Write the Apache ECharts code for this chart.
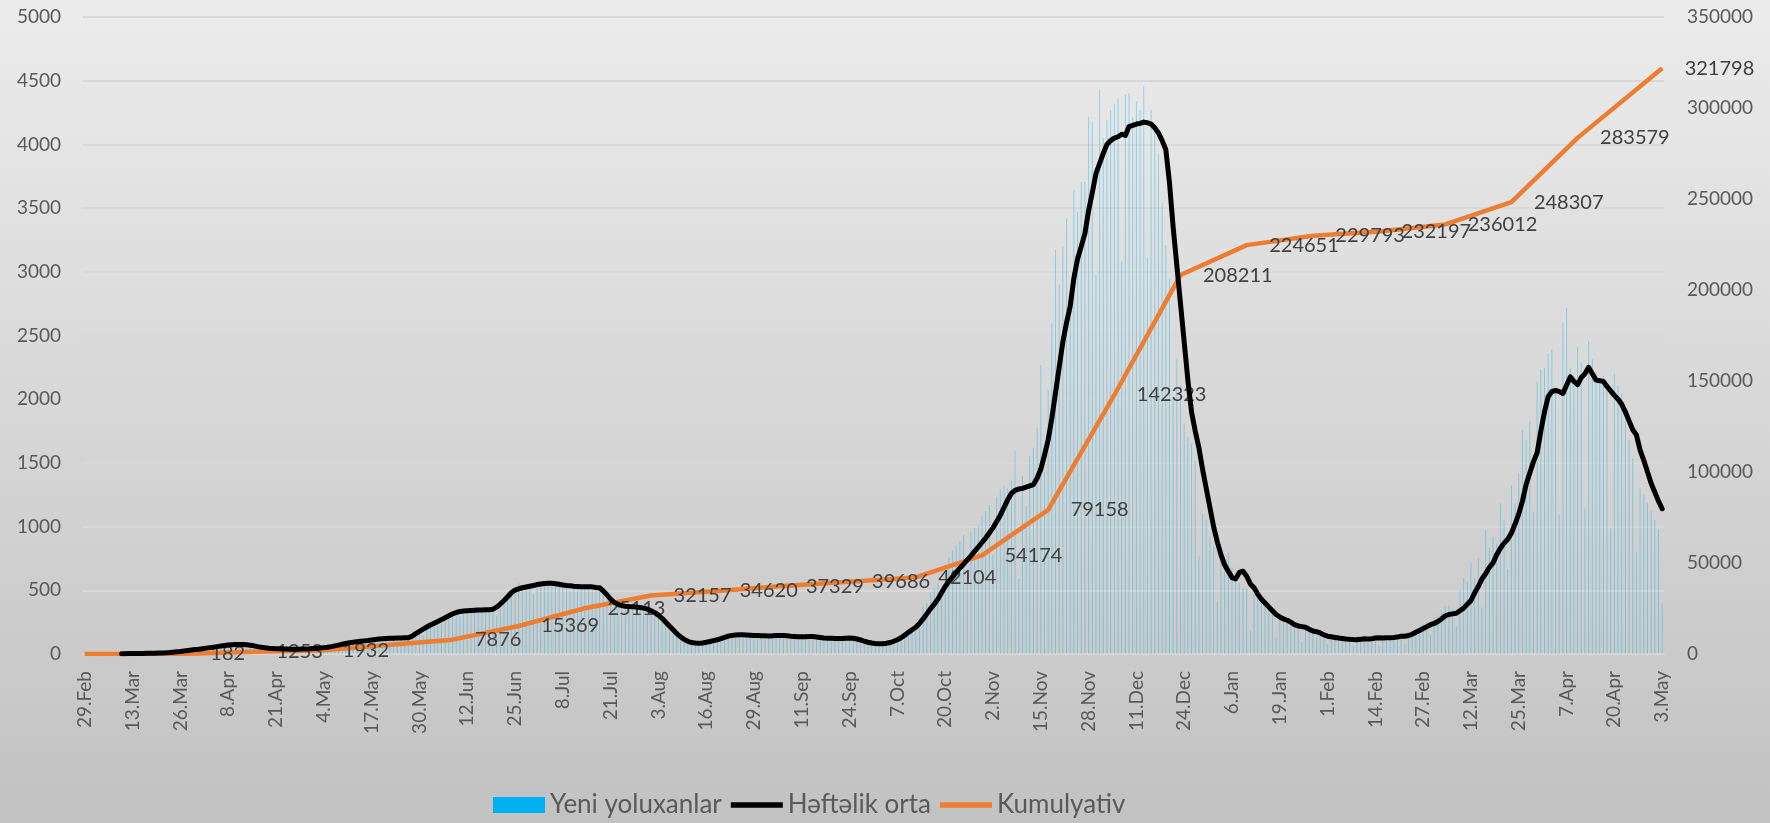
<!DOCTYPE html>
<html>
<head>
<meta charset="utf-8">
<title>Yeni yoluxanlar</title>
<script src="https://cdn.jsdelivr.net/npm/echarts@6/dist/echarts.min.js"></script>
<style>
  html, body { margin: 0; padding: 0; }
  #chart { width: 1770px; height: 823px; }
</style>
</head>
<body>
<div id="chart"></div>
<script>
// Daily data, 29.Feb.2020 .. 3.May.2021 (430 days)
const startDay = '2020-02-29';
const dayCount = 430;
const monthNames = ['Jan', 'Feb', 'Mar', 'Apr', 'May', 'Jun', 'Jul', 'Aug', 'Sep', 'Oct', 'Nov', 'Dec'];

// new cases per day (bars)
const dailyCases = [
    3, 0, 0, 0, 0, 3, 0, 0, 2, 1,
    0, 4, 0, 0, 8, 0, 3, 4, 0, 6,
    6, 8, 12, 9, 15, 19, 22, 28, 30, 25,
    27, 43, 38, 48, 52, 64, 57, 68, 75, 81,
    76, 88, 74, 61, 69, 72, 54, 45, 52, 38,
    46, 40, 53, 31, 42, 36, 44, 33, 39, 41,
    37, 45, 40, 48, 51, 58, 64, 55, 73, 79,
    82, 88, 97, 78, 103, 91, 112, 106, 118, 98,
    122, 131, 113, 128, 119, 135, 112, 129, 140, 127,
    165, 182, 150, 214, 230, 265, 241, 273, 288, 302,
    312, 330, 298, 345, 352, 319, 356, 340, 335, 362,
    342, 358, 301, 414, 443, 491, 473, 528, 562, 497,
    526, 548, 471, 556, 560, 573, 582, 534, 557, 540,
    518, 561, 497, 543, 527, 535, 522, 548, 510, 538,
    493, 462, 420, 389, 371, 402, 365, 388, 352, 371,
    358, 376, 331, 340, 325, 296, 278, 245, 238, 201,
    176, 148, 112, 109, 96, 88, 76, 84, 92, 88,
    102, 118, 97, 133, 141, 149, 155, 160, 138, 152,
    147, 155, 121, 144, 150, 139, 146, 152, 129, 148,
    144, 151, 118, 139, 142, 137, 133, 140, 116, 135,
    128, 131, 102, 126, 124, 122, 119, 127, 108, 125,
    112, 104, 86, 94, 87, 81, 69, 79, 88, 97,
    108, 126, 112, 153, 178, 205, 180, 262, 371, 400,
    478, 520, 560, 440, 700, 760, 816, 850, 880, 934,
    620, 960, 990, 1010, 1080, 1120, 1170, 780, 1235, 1290,
    1320, 1300, 1359, 1595, 588, 1400, 1163, 1556, 1620, 1778,
    2269, 1430, 2073, 2595, 3171, 2900, 3197, 3420, 2650, 3641,
    3472, 3707, 3707, 4217, 4178, 2974, 4432, 4050, 4190, 4270,
    4320, 4360, 3080, 4390, 4401, 4210, 4340, 4270, 4453, 3113,
    4270, 4105, 3929, 3540, 3210, 2947, 2020, 2320, 2105, 1810,
    1706, 1653, 1516, 766, 1096, 1054, 920, 843, 411, 792,
    690, 792, 680, 602, 555, 512, 510, 183, 470, 452,
    418, 396, 351, 318, 131, 287, 262, 249, 233, 218,
    212, 98, 205, 189, 176, 131, 164, 152, 79, 148,
    139, 157, 130, 124, 118, 64, 144, 126, 122, 119,
    125, 131, 67, 136, 129, 134, 131, 138, 147, 81,
    162, 178, 196, 211, 230, 249, 152, 288, 301, 329,
    366, 380, 357, 215, 502, 596, 568, 717, 594, 752,
    363, 973, 832, 921, 869, 1183, 1050, 667, 1326, 1183,
    1418, 1758, 1680, 1824, 1117, 2138, 2235, 2243, 2355, 2386,
    2050, 1091, 2596, 2713, 2240, 2180, 2412, 2290, 1144, 2452,
    2313, 2210, 2120, 2180, 2090, 986, 2195, 2110, 2046, 1830,
    1680, 1536, 803, 1300, 1250, 1183, 1120, 1052, 980, 403
];

// 7-day average (black line)
const weeklyAvg = [
    null, null, null, null, null, null, null, null, null, null,
    2, 2, 3, 3, 3, 4, 4, 5, 5, 6,
    7, 8, 9, 11, 14, 17, 20, 24, 28, 32,
    35, 38, 42, 46, 50, 54, 58, 62, 66, 70,
    72, 74, 75, 74, 72, 68, 64, 58, 53, 49,
    46, 44, 42, 41, 40, 39, 38, 38, 38, 39,
    40, 41, 43, 45, 47, 50, 53, 58, 64, 70,
    76, 82, 88, 92, 96, 100, 103, 106, 110, 114,
    118, 120, 122, 123, 124, 125, 126, 127, 128, 140,
    160, 178, 195, 212, 228, 242, 256, 270, 285, 300,
    315, 326, 334, 338, 340, 342, 344, 345, 346, 347,
    348, 352, 368, 392, 420, 450, 480, 502, 512, 520,
    526, 532, 538, 545, 550, 554, 556, 555, 552, 548,
    542, 538, 535, 532, 530, 528, 528, 528, 527, 522,
    520, 495, 465, 430, 405, 390, 380, 375, 372, 370,
    368, 365, 360, 352, 340, 325, 305, 280, 250, 220,
    190, 160, 135, 115, 100, 90, 86, 85, 87, 92,
    98, 105, 112, 120, 130, 140, 146, 150, 152, 151,
    150, 148, 146, 145, 144, 143, 142, 143, 145, 146,
    145, 143, 140, 138, 136, 135, 136, 138, 137, 134,
    130, 126, 124, 123, 122, 121, 122, 124, 126, 124,
    118, 110, 100, 92, 86, 82, 80, 81, 84, 90,
    100, 112, 128, 148, 170, 190, 210, 240, 275, 315,
    355, 390, 430, 480, 530, 570, 605, 640, 675, 705,
    738, 770, 805, 840, 875, 910, 950, 990, 1040, 1090,
    1150, 1210, 1260, 1285, 1295, 1300, 1310, 1320, 1330, 1380,
    1450, 1560, 1680, 1850, 2050, 2250, 2450, 2600, 2730, 2950,
    3100, 3200, 3300, 3480, 3620, 3770, 3850, 3930, 4000, 4030,
    4050, 4060, 4080, 4070, 4140, 4150, 4160, 4165, 4175, 4170,
    4160, 4130, 4090, 4030, 3960, 3700, 3350, 3050, 2750, 2450,
    2150, 1900, 1750, 1620, 1450, 1300, 1150, 1000, 880, 780,
    700, 650, 600, 590, 640, 650, 610, 550, 520, 470,
    430, 400, 370, 340, 310, 290, 275, 265, 250, 230,
    220, 215, 210, 195, 180, 175, 165, 150, 140, 135,
    130, 125, 122, 118, 115, 113, 112, 115, 120, 118,
    120, 125, 128, 125, 127, 128, 130, 133, 140, 140,
    145, 155, 170, 185, 200, 215, 230, 240, 255, 275,
    300, 310, 315, 320, 340, 360, 390, 420, 480, 530,
    590, 630, 680, 715, 780, 830, 870, 900, 950, 1020,
    1100, 1200, 1330, 1420, 1510, 1580, 1750, 1900, 2020, 2060,
    2070, 2060, 2045, 2110, 2175, 2140, 2115, 2170, 2200, 2250,
    2200, 2150, 2145, 2140, 2100, 2065, 2030, 2000, 1960, 1900,
    1830, 1760, 1720, 1600, 1520, 1430, 1340, 1270, 1200, 1140
];

// cumulative total (orange line, right axis), only on these days
const cumDates = ['2020-02-29', '2020-03-28', '2020-04-15', '2020-05-03', '2020-06-08', '2020-06-26',
    '2020-07-14', '2020-08-01', '2020-08-19', '2020-09-06', '2020-09-24', '2020-10-12', '2020-10-30',
    '2020-11-17', '2020-12-05', '2020-12-23', '2021-01-10', '2021-01-28', '2021-02-15', '2021-03-05',
    '2021-03-23', '2021-04-10', '2021-05-03'];
const cumValues = [3, 182, 1253, 1932, 7876, 15369, 25113, 32157, 34620, 37329, 39686, 42104, 54174,
    79158, 142323, 208211, 224651, 229793, 232197, 236012, 248307, 283579, 321798];

const seriesNames = ['Yeni yoluxanlar', 'Həftəlik orta', 'Kumulyativ'];

// build category list (ISO dates)
const categories = [];
{
    const d0 = new Date(startDay + 'T00:00:00Z');
    for (let i = 0; i < dayCount; i++) {
        const d = new Date(d0.getTime() + i * 86400000);
        categories.push(d.toISOString().slice(0, 10));
    }
}

function shortDate(iso) {
    const p = iso.split('-');
    return (+p[2]) + '.' + monthNames[+p[1] - 1];
}

const cumSeriesData = categories.map(c => {
    const k = cumDates.indexOf(c);
    if (k < 0) return null;
    if (k === 0) return { value: cumValues[k], label: { show: false } };
    return cumValues[k];
});

const FONT = 'Lato, "Noto Sans", sans-serif';
const AXIS_GREY = '#595959';
const plainNumber = v => String(v);

const chart = echarts.init(document.getElementById('chart'));

chart.setOption({
    animation: false,
    backgroundColor: {
        type: 'linear', x: 0, y: 0, x2: 0, y2: 1,
        colorStops: [
            { offset: 0, color: '#ececec' },
            { offset: 1, color: '#c2c2c2' }
        ]
    },
    textStyle: { fontFamily: FONT },
    grid: { left: 83, right: 106, top: 17, bottom: 169 },
    legend: {
        left: 493,
        top: 792,
        itemWidth: 52,
        itemHeight: 16,
        itemGap: 9,
        padding: 0,
        textStyle: { fontFamily: FONT, fontSize: 26, color: AXIS_GREY },
        data: [
            { name: seriesNames[0], icon: 'rect', itemStyle: { color: '#00b0f0', opacity: 1 } },
            { name: seriesNames[1], icon: 'path://M0,0h100v11h-100z', itemStyle: { color: '#000000' } },
            { name: seriesNames[2], icon: 'path://M0,0h100v11h-100z', itemStyle: { color: '#ed7d31' } }
        ]
    },
    xAxis: {
        type: 'category',
        data: categories,
        boundaryGap: true,
        axisLine: { show: true, lineStyle: { color: '#d9d9d9', width: 2 } },
        axisTick: { show: false },
        axisLabel: {
            interval: 12,
            rotate: 90,
            margin: 17,
            fontSize: 19,
            fontFamily: FONT,
            color: AXIS_GREY,
            formatter: shortDate
        }
    },
    yAxis: [
        {
            type: 'value',
            min: 0,
            max: 5000,
            interval: 500,
            axisLine: { show: false },
            axisTick: { show: false },
            axisLabel: { margin: 22, fontSize: 19, fontFamily: FONT, color: AXIS_GREY, formatter: plainNumber },
            splitLine: { lineStyle: { color: '#d9d9d9', width: 2 } }
        },
        {
            type: 'value',
            min: 0,
            max: 350000,
            interval: 50000,
            axisLine: { show: false },
            axisTick: { show: false },
            axisLabel: { margin: 23, fontSize: 19, fontFamily: FONT, color: AXIS_GREY, formatter: plainNumber },
            splitLine: { show: false }
        }
    ],
    series: [
        {
            name: seriesNames[0],
            type: 'bar',
            data: dailyCases,
            barWidth: 1,
            itemStyle: { color: 'rgba(0,176,240,0.38)' },
            z: 1
        },
        {
            name: seriesNames[2],
            type: 'line',
            yAxisIndex: 1,
            data: cumSeriesData,
            connectNulls: true,
            showSymbol: true,
            showAllSymbol: true,
            symbol: 'circle',
            symbolSize: 1,
            itemStyle: { color: '#ed7d31' },
            lineStyle: { color: '#ed7d31', width: 4.5 },
            label: {
                show: true,
                position: 'right',
                distance: 22,
                fontSize: 20,
                fontFamily: FONT,
                color: '#404040',
                formatter: p => String(p.value)
            },
            z: 3
        },
        {
            name: seriesNames[1],
            type: 'line',
            data: weeklyAvg,
            showSymbol: false,
            symbol: 'none',
            itemStyle: { color: '#000000' },
            lineStyle: { color: '#000000', width: 5, cap: 'round', join: 'round' },
            z: 4
        }
    ]
});
</script>
</body>
</html>
